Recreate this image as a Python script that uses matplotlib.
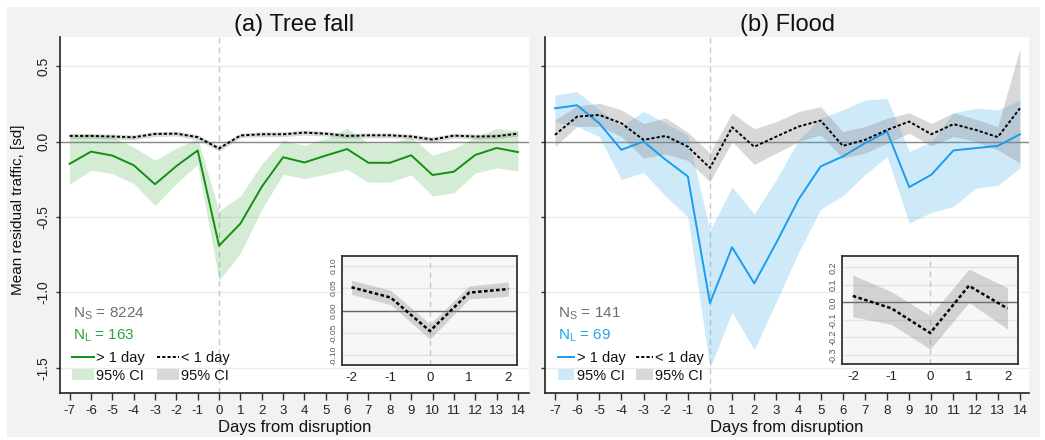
import matplotlib
matplotlib.use("Agg")
import matplotlib.pyplot as plt
from matplotlib.patches import Rectangle, Patch
from matplotlib.lines import Line2D
import numpy as np

plt.rcParams['font.family'] = ['Liberation Sans', 'DejaVu Sans']

# ---------------- data ----------------
days = list(range(-7, 15))
xtick_labels = [str(d) for d in days]
ytick_vals = [-1.5, -1.0, -0.5, 0.0, 0.5]
ytick_labels = ['-1.5', '-1.0', '-0.5', '0.0', '0.5']

# (a) Tree fall, disruption > 1 day
tree_long = [-0.148, -0.067, -0.093, -0.157, -0.283, -0.163, -0.059, -0.690, -0.544, -0.300, -0.104,
             -0.139, -0.093, -0.050, -0.141, -0.141, -0.091, -0.222, -0.200, -0.089, -0.043, -0.070]
tree_long_lo = [-0.283, -0.190, -0.213, -0.278, -0.424, -0.278, -0.150, -0.920, -0.740, -0.450, -0.217,
                -0.246, -0.217, -0.185, -0.270, -0.270, -0.220, -0.360, -0.340, -0.210, -0.174, -0.196]
tree_long_hi = [0.030, 0.050, 0.030, -0.037, -0.124, -0.043, 0.020, -0.460, -0.360, -0.150, 0.010,
                -0.026, 0.020, 0.087, -0.010, -0.010, 0.030, -0.090, -0.048, 0.030, 0.087, 0.070]
# (a) Tree fall, disruption < 1 day
tree_short = [0.037, 0.037, 0.033, 0.028, 0.050, 0.052, 0.029, -0.046, 0.040, 0.048, 0.048,
              0.059, 0.052, 0.037, 0.041, 0.041, 0.033, 0.013, 0.039, 0.033, 0.035, 0.052]
tree_short_lo = [0.020, 0.021, 0.017, 0.012, 0.034, 0.036, 0.013, -0.064, 0.026, 0.032, 0.032,
                 0.043, 0.036, 0.021, 0.025, 0.025, 0.017, -0.004, 0.023, 0.017, 0.019, 0.036]
tree_short_hi = [0.054, 0.053, 0.049, 0.044, 0.066, 0.068, 0.045, -0.030, 0.055, 0.064, 0.064,
                 0.075, 0.068, 0.053, 0.057, 0.057, 0.049, 0.030, 0.055, 0.049, 0.051, 0.068]

# (b) Flood, disruption > 1 day
flood_long = [0.220, 0.240, 0.121, -0.055, 0.000, -0.121, -0.231, -1.070, -0.700, -0.940, -0.670,
              -0.384, -0.165, -0.099, -0.011, 0.066, -0.302, -0.220, -0.059, -0.044, -0.029, 0.048]
flood_long_lo = [0.130, 0.100, 0.033, -0.253, -0.205, -0.363, -0.500, -1.500, -1.130, -1.380, -1.060,
                 -0.735, -0.450, -0.360, -0.220, -0.100, -0.540, -0.470, -0.430, -0.310, -0.290, -0.176]
flood_long_hi = [0.308, 0.330, 0.210, 0.100, 0.200, 0.121, 0.040, -0.590, -0.300, -0.480, -0.250,
                 0.010, 0.154, 0.210, 0.275, 0.286, -0.066, 0.000, 0.190, 0.220, 0.210, 0.275]
# (b) Flood, disruption < 1 day
flood_short = [0.044, 0.165, 0.176, 0.121, 0.011, 0.037, -0.034, -0.175, 0.095, -0.035, 0.033,
               0.099, 0.139, -0.029, 0.011, 0.077, 0.132, 0.048, 0.115, 0.077, 0.029, 0.220]
flood_short_lo = [-0.033, 0.100, 0.100, 0.033, -0.110, -0.082, -0.126, -0.267, 0.000, -0.152, -0.077,
                  0.000, 0.044, -0.110, -0.077, -0.011, 0.055, -0.029, 0.033, 0.000, -0.055, -0.143]
flood_short_hi = [0.143, 0.236, 0.253, 0.210, 0.120, 0.156, 0.061, -0.076, 0.190, 0.084, 0.132,
                  0.198, 0.230, 0.066, 0.099, 0.154, 0.190, 0.120, 0.190, 0.148, 0.099, 0.617]

inset_days = [-2, -1, 0, 1, 2]
inset_a_yticks = [-0.10, -0.05, 0.00, 0.05, 0.10]
inset_a_ylabels = ['-0.10', '-0.05', '0.00', '0.05', '0.10']
inset_b_yticks = [-0.3, -0.2, -0.1, 0.0, 0.1, 0.2]
inset_b_ylabels = ['-0.3', '-0.2', '-0.1', '0.0', '0.1', '0.2']

# ---------------- layout ----------------
W, H = 1045, 440
fig = plt.figure(figsize=(W / 100, H / 100), dpi=100, facecolor='white')


def px_rect(x0, y0, x1, y1):
    return [x0 / W, 1 - y1 / H, (x1 - x0) / W, (y1 - y0) / H]


fig.patches.append(Rectangle((7 / W, 1 - 437 / H), (1040 - 7) / W, (437 - 7) / H,
                             transform=fig.transFigure, facecolor='#f2f2f2',
                             edgecolor='none', zorder=-10))

DOT = (0, (1.6, 1.1))
GRAY_FILL = '#7f7f7f'


def draw_panel(ax, x_px, title, lm, llo, lhi, sm, slo, shi, lcol, fcol, falpha,
               ns_text, nl_text, ncol, hl, hsp, csp, show_ylabels, xlim):
    x0, x1 = x_px
    ax.set_facecolor('white')
    ax.set_xlim(*xlim)
    ax.set_ylim(-1.666, 0.689)
    ax.set_yticks(ytick_vals)
    ax.set_xticks(days)
    ax.set_xticklabels(xtick_labels, fontsize=9.5, color='#222222')
    if show_ylabels:
        ax.set_yticklabels(ytick_labels, fontsize=10, rotation=90, va='center', color='#222222')
    else:
        ax.set_yticklabels([])
    ax.tick_params(axis='x', direction='out', length=5, width=1, color='#333333', pad=3.5)
    ax.tick_params(axis='y', direction='out', length=3, width=1, color='#333333', pad=4)
    for s in ['top', 'right']:
        ax.spines[s].set_visible(False)
    for s in ['left', 'bottom']:
        ax.spines[s].set_color('#222222')
        ax.spines[s].set_linewidth(1.2)
    ax.grid(axis='y', color='#ebebeb', lw=1, zorder=0.5)
    ax.set_axisbelow(True)
    ax.axhline(0, color='#8a8a8a', lw=1, zorder=1.5)
    ax.axvline(0, color='#c8c8c8', lw=1, ls=(0, (4, 3)), zorder=1.4)

    ax.fill_between(days, llo, lhi, color=fcol, alpha=falpha, lw=0, zorder=2)
    ax.fill_between(days, slo, shi, color=GRAY_FILL, alpha=0.3, lw=0, zorder=2.5)
    ax.plot(days, lm, color=lcol, lw=1.4, zorder=3)
    ax.plot(days, sm, color='black', lw=1.4, ls=DOT, zorder=3.5)

    ax.text(0.5, 1 + (37.5 - 25) / 355.5, title, transform=ax.transAxes,
            ha='center', va='center', fontsize=17, color='#111111')
    ax.text(0.5, -(427 - 393) / 355.5, 'Days from disruption', transform=ax.transAxes,
            ha='center', va='center', fontsize=12, color='#111111')

    tx = (ns_text[0] - x0) / (x1 - x0)
    ax.text(tx, 0.213, ns_text[1], transform=ax.transAxes, ha='left', va='baseline',
            fontsize=11, color='#6e6e6e', zorder=5)
    ax.text(tx, 0.152, nl_text, transform=ax.transAxes, ha='left', va='baseline',
            fontsize=11, color=ncol, zorder=5)

    handles = [Line2D([], [], color=lcol, lw=1.4),
               Patch(facecolor=fcol, alpha=falpha, edgecolor='none'),
               Line2D([], [], color='black', lw=1.4, ls=DOT),
               Patch(facecolor=GRAY_FILL, alpha=0.3, edgecolor='none')]
    labels = ['> 1 day', '95% CI', '< 1 day', '95% CI']
    lx = (hsp - x0) / (x1 - x0)
    leg = ax.legend(handles, labels, ncol=2, loc='upper left', bbox_to_anchor=(lx, 0.117),
                    frameon=False, fontsize=10.5, borderpad=0, borderaxespad=0,
                    handlelength=hl, handleheight=0.82, handletextpad=0.19,
                    columnspacing=csp, labelspacing=0.22)
    for t in leg.get_texts():
        t.set_color('#111111')
    leg.set_zorder(6)


def draw_inset(rect, xlim, ylim, yt, ytl, sm, slo, shi, yfs):
    ia = fig.add_axes(rect)
    ia.set_facecolor('#f7f7f7')
    ia.set_zorder(10)
    idx = [days.index(d) for d in inset_days]
    ia.fill_between(inset_days, [slo[i] for i in idx], [shi[i] for i in idx],
                    color=GRAY_FILL, alpha=0.3, lw=0, zorder=2)
    ia.plot(inset_days, [sm[i] for i in idx], color='black', lw=1.8, ls=(0, (1.4, 1.0)), zorder=3)
    ia.set_xlim(*xlim)
    ia.set_ylim(*ylim)
    ia.set_xticks(inset_days)
    ia.set_xticklabels([str(d) for d in inset_days], fontsize=9.5, color='#222222')
    ia.set_yticks(yt)
    ia.set_yticklabels(ytl, fontsize=yfs, rotation=90, va='center', color='#555555')
    ia.tick_params(axis='both', length=0)
    ia.tick_params(axis='x', pad=5)
    ia.tick_params(axis='y', pad=3)
    ia.grid(axis='y', color='#e4e4e4', lw=1, zorder=0.5)
    ia.set_axisbelow(True)
    ia.axhline(0, color='#6a6a6a', lw=1, zorder=1.5)
    ia.axvline(0, color='#c8c8c8', lw=1, ls=(0, (4, 3)), zorder=1.4)
    for s in ia.spines.values():
        s.set_color('#333333')
        s.set_linewidth(1.3)
    return ia


axA = fig.add_axes(px_rect(60, 37.5, 528.6, 393))
draw_panel(axA, (60, 528.6), '(a) Tree fall', tree_long, tree_long_lo, tree_long_hi,
           tree_short, tree_short_lo, tree_short_hi, '#138f13', '#2ca02c', 0.2,
           (73.3, r'N$_{\mathregular{S}}$ = 8224'), r'N$_{\mathregular{L}}$ = 163', '#25a540',
           1.5, 71.7, 0.8, True, (-7.45, 14.5))

axB = fig.add_axes(px_rect(545, 37.5, 1029, 393))
draw_panel(axB, (545, 1029), '(b) Flood', flood_long, flood_long_lo, flood_long_hi,
           flood_short, flood_short_lo, flood_short_hi, '#1a9cf0', '#3daee9', 0.25,
           (558, r'N$_{\mathregular{S}}$ = 141'), r'N$_{\mathregular{L}}$ = 69', '#1aa7ee',
           1.12, 557.7, 0.73, False, (-7.45, 14.41))

fig.text(18 / W, 1 - 210 / H, 'Mean residual traffic, [sd]', rotation=90,
         ha='center', va='center', fontsize=11, color='#111111')

draw_inset(px_rect(341.7, 256, 517, 365), (-2.25, 2.22), (-0.122, 0.122),
           inset_a_yticks, inset_a_ylabels, tree_short, tree_short_lo, tree_short_hi, 6)
draw_inset(px_rect(842, 256, 1018, 364), (-2.28, 2.27), (-0.352, 0.265),
           inset_b_yticks, inset_b_ylabels, flood_short, flood_short_lo, flood_short_hi, 6.5)

fig.savefig('out.png', dpi=100, facecolor=fig.get_facecolor())
